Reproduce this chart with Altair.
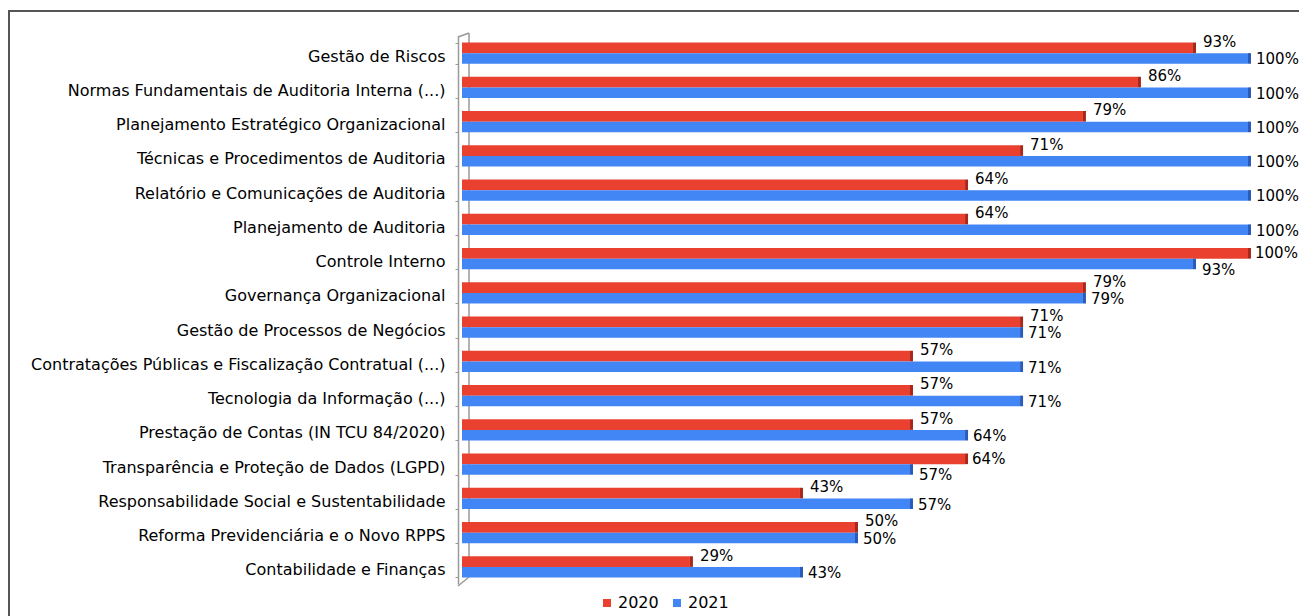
import altair as alt
import pandas as pd

categories = [
    "Gestão de Riscos",
    "Normas Fundamentais de Auditoria Interna (...)",
    "Planejamento Estratégico Organizacional",
    "Técnicas e Procedimentos de Auditoria",
    "Relatório e Comunicações de Auditoria",
    "Planejamento de Auditoria",
    "Controle Interno",
    "Governança Organizacional",
    "Gestão de Processos de Negócios",
    "Contratações Públicas e Fiscalização Contratual (...)",
    "Tecnologia da Informação (...)",
    "Prestação de Contas (IN TCU 84/2020)",
    "Transparência e Proteção de Dados (LGPD)",
    "Responsabilidade Social e Sustentabilidade",
    "Reforma Previdenciária e o Novo RPPS",
    "Contabilidade e Finanças",
]
v2020 = [93, 86, 79, 71, 64, 64, 100, 79, 71, 57, 57, 57, 64, 43, 50, 29]
v2021 = [100, 100, 100, 100, 100, 100, 93, 79, 71, 71, 71, 64, 57, 57, 50, 43]
series = ["2020", "2021"]
colors = ["#EA4030", "#4285F4"]
cap_colors = ["#A8281C", "#2A5BB8"]

rows = []
for c, a, b in zip(categories, v2020, v2021):
    rows.append({"cat": c, "serie": "2020", "v": a, "redhigher": a > b})
    rows.append({"cat": c, "serie": "2021", "v": b, "redhigher": a > b})
df = pd.DataFrame(rows)

W, H = 786, 548
FONT = "DejaVu Sans"

y = alt.Y(
    "cat:N",
    sort=categories,
    title=None,
    scale=alt.Scale(paddingInner=0.38, paddingOuter=0.19),
    axis=alt.Axis(
        labelFont=FONT,
        labelFontSize=16,
        labelColor="#000000",
        labelLimit=600,
        labelPadding=10,
        labelOffset=3,
        offset=4,
        domainColor="#9a9a9a",
        domainWidth=1.5,
        tickColor="#9a9a9a",
        tickSize=3,
        tickBand="extent",
    ),
)
yoff = alt.YOffset("serie:N", scale=alt.Scale(domain=series))
x = alt.X("v:Q", scale=alt.Scale(domain=[0, 100]), axis=None)
color = alt.Color(
    "serie:N",
    scale=alt.Scale(domain=series, range=colors),
    legend=alt.Legend(
        title=None,
        orient="none",
        legendX=137,
        legendY=559,
        direction="horizontal",
        symbolType="square",
        symbolSize=64,
        symbolStrokeWidth=0,
        labelFont=FONT,
        labelFontSize=16,
        labelColor="#000000",
        labelOffset=3,
        columnPadding=10,
        padding=0,
    ),
)

base = alt.Chart(df)

bars = base.mark_bar().encode(y=y, yOffset=yoff, x=x, color=color)

caps = []
for s, cc in zip(series, cap_colors):
    caps.append(
        base.transform_filter(alt.datum.serie == s)
        .mark_bar(color=cc, x2Offset=3)
        .encode(y=y, yOffset=yoff, x=x, x2="v:Q")
    )

# label placement: (series, red-higher?, dx, dy)
label_rules = [
    ("2020", False, 10, -6),
    ("2020", True, 7, 0),
    ("2021", False, 8, 1),
    ("2021", True, 9, 6),
]
texts = []
for s, rh, dx, dy in label_rules:
    texts.append(
        base.transform_filter((alt.datum.serie == s) & (alt.datum.redhigher == rh))
        .transform_calculate(lbl="datum.v + '%'")
        .mark_text(align="left", baseline="middle", dx=dx, dy=dy,
                   font=FONT, fontSize=15, color="#000000")
        .encode(y=y, yOffset=yoff, x=x, text="lbl:N")
    )

one = alt.Chart(pd.DataFrame({"a": [0]}))
wall_col = "#9a9a9a"
back = one.mark_rule(color=wall_col, strokeWidth=1.5).encode(
    x=alt.value(7), y=alt.value(-3), y2=alt.value(541))
top_slant = one.mark_rule(color=wall_col, strokeWidth=1.5).encode(
    x=alt.value(-4), x2=alt.value(7), y=alt.value(1), y2=alt.value(-3))
bot_slant = one.mark_rule(color=wall_col, strokeWidth=1.5).encode(
    x=alt.value(-4), x2=alt.value(7), y=alt.value(550), y2=alt.value(541))

border = one.mark_rect(fill="transparent", stroke="#555555", strokeWidth=2).encode(
    x=alt.value(-453), x2=alt.value(1299 - 462 + 20),
    y=alt.value(-25), y2=alt.value(H + 60))

chart = alt.layer(
    border, back, top_slant, bot_slant, bars, *caps, *texts
).properties(
    width=W,
    height=H,
    autosize=alt.AutoSizeParams(type="none"),
    padding={"left": 462, "top": 36, "right": 51, "bottom": 32},
).configure_view(strokeWidth=0)

chart.save("out.html", embed_options={"renderer": "svg", "actions": False})
